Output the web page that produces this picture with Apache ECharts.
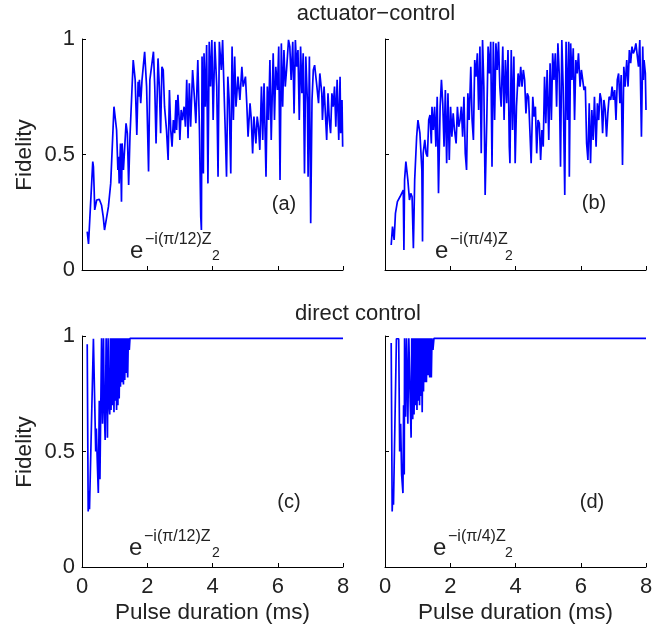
<!DOCTYPE html>
<html>
<head>
<meta charset="utf-8">
<script src="https://cdn.jsdelivr.net/npm/echarts@6/dist/echarts.min.js"></script>
<style>html,body{margin:0;padding:0;background:#fff}#c{width:668px;height:625px}</style>
</head>
<body>
<div id="c"></div>
<script>
// Fidelity vs pulse duration (ms): [ms, fidelity]
const panelA = [[0.16,0.166],[0.20,0.113],[0.33,0.469],[0.35,0.447],[0.37,0.36],[0.39,0.26],[0.45,0.303],[0.53,0.306],[0.60,0.28],[0.65,0.231],[0.69,0.173],[0.72,0.17],[0.81,0.274],[0.88,0.375],[0.91,0.375],[0.98,0.707],[1.06,0.606],[1.10,0.433],[1.12,0.49],[1.14,0.375],[1.18,0.548],[1.21,0.296],[1.23,0.548],[1.27,0.433],[1.35,0.635],[1.39,0.592],[1.43,0.368],[1.47,0.577],[1.57,0.909],[1.63,0.823],[1.68,0.584],[1.72,0.815],[1.74,0.75],[1.76,0.823],[1.80,0.722],[1.84,0.823],[1.92,0.945],[1.98,0.794],[2.04,0.426],[2.08,0.823],[2.19,0.945],[2.23,0.794],[2.27,0.548],[2.33,0.916],[2.37,0.794],[2.41,0.592],[2.45,0.88],[2.49,0.866],[2.53,0.707],[2.59,0.606],[2.64,0.476],[2.68,0.779],[2.72,0.606],[2.76,0.534],[2.80,0.649],[2.84,0.592],[2.88,0.736],[2.90,0.606],[2.94,0.758],[2.98,0.649],[3.00,0.563],[3.04,0.693],[3.08,0.649],[3.13,0.707],[3.17,0.62],[3.21,0.823],[3.25,0.57],[3.29,0.808],[3.33,0.62],[3.39,0.866],[3.45,0.736],[3.49,0.635],[3.55,0.909],[3.60,0.606],[3.64,0.231],[3.66,0.173],[3.68,0.924],[3.72,0.418],[3.74,0.938],[3.78,0.707],[3.82,0.974],[3.86,0.375],[3.90,0.988],[3.94,0.794],[3.98,0.996],[4.02,0.649],[4.07,0.988],[4.13,0.794],[4.17,0.404],[4.21,0.988],[4.27,0.866],[4.31,0.996],[4.35,0.794],[4.39,0.606],[4.43,0.404],[4.47,0.837],[4.51,0.736],[4.56,0.418],[4.60,0.967],[4.64,0.649],[4.68,0.924],[4.72,0.707],[4.78,0.837],[4.84,0.736],[4.90,0.88],[4.94,0.794],[5.01,0.837],[5.05,0.722],[5.09,0.577],[5.15,0.722],[5.19,0.649],[5.23,0.505],[5.27,0.664],[5.33,0.548],[5.37,0.664],[5.41,0.62],[5.45,0.52],[5.50,0.794],[5.54,0.563],[5.58,0.808],[5.64,0.404],[5.68,0.794],[5.72,0.649],[5.76,0.909],[5.80,0.563],[5.86,0.938],[5.90,0.649],[5.94,0.88],[5.99,0.779],[6.03,0.967],[6.07,0.39],[6.11,0.981],[6.15,0.707],[6.19,0.952],[6.23,0.794],[6.27,0.866],[6.33,0.996],[6.37,0.967],[6.41,0.823],[6.46,0.988],[6.50,0.678],[6.54,0.996],[6.58,0.88],[6.62,0.952],[6.66,0.649],[6.70,0.967],[6.74,0.765],[6.78,0.938],[6.82,0.418],[6.86,0.924],[6.91,0.722],[6.93,0.404],[6.97,0.924],[7.01,0.202],[7.05,0.736],[7.09,0.866],[7.13,0.887],[7.19,0.808],[7.25,0.722],[7.29,0.851],[7.35,0.765],[7.37,0.649],[7.42,0.794],[7.46,0.678],[7.50,0.563],[7.54,0.765],[7.58,0.649],[7.62,0.592],[7.66,0.765],[7.70,0.707],[7.74,0.794],[7.78,0.62],[7.82,0.823],[7.87,0.563],[7.91,0.837],[7.93,0.592],[7.97,0.736],[7.99,0.534]];

const panelB = [[0.19,0.108],[0.23,0.188],[0.28,0.13],[0.32,0.245],[0.38,0.296],[0.46,0.317],[0.52,0.31],[0.56,0.346],[0.58,0.087],[0.60,0.39],[0.64,0.469],[0.70,0.39],[0.75,0.303],[0.79,0.332],[0.83,0.317],[0.87,0.094],[0.91,0.39],[0.97,0.577],[1.01,0.649],[1.07,0.592],[1.13,0.433],[1.15,0.123],[1.17,0.505],[1.22,0.563],[1.26,0.505],[1.30,0.49],[1.34,0.649],[1.38,0.671],[1.42,0.548],[1.44,0.707],[1.48,0.606],[1.52,0.707],[1.56,0.534],[1.60,0.75],[1.64,0.332],[1.69,0.707],[1.73,0.823],[1.77,0.722],[1.81,0.534],[1.85,0.779],[1.89,0.462],[1.93,0.765],[1.97,0.476],[2.01,0.707],[2.05,0.577],[2.09,0.678],[2.13,0.606],[2.18,0.548],[2.22,0.707],[2.26,0.62],[2.30,0.649],[2.34,0.707],[2.38,0.577],[2.42,0.75],[2.46,0.505],[2.50,0.433],[2.54,0.765],[2.58,0.649],[2.63,0.88],[2.67,0.649],[2.71,0.563],[2.75,0.909],[2.79,0.837],[2.83,0.938],[2.87,0.693],[2.91,0.967],[2.95,0.505],[2.99,0.996],[3.03,0.794],[3.07,0.325],[3.12,0.649],[3.16,0.967],[3.20,0.851],[3.24,0.988],[3.28,0.447],[3.32,0.988],[3.36,0.649],[3.40,0.981],[3.44,0.866],[3.48,0.988],[3.52,0.794],[3.56,0.707],[3.61,0.967],[3.65,0.649],[3.69,0.909],[3.73,0.722],[3.77,0.952],[3.81,0.534],[3.83,0.462],[3.87,0.952],[3.91,0.606],[3.95,0.924],[3.99,0.462],[4.03,0.707],[4.08,0.851],[4.12,0.794],[4.16,0.88],[4.20,0.794],[4.24,0.866],[4.28,0.823],[4.32,0.678],[4.36,0.765],[4.40,0.75],[4.44,0.606],[4.48,0.462],[4.53,0.75],[4.57,0.664],[4.61,0.707],[4.65,0.505],[4.69,0.649],[4.73,0.635],[4.77,0.476],[4.81,0.606],[4.85,0.534],[4.89,0.837],[4.93,0.635],[4.97,0.866],[5.02,0.563],[5.06,0.895],[5.10,0.649],[5.14,0.938],[5.18,0.823],[5.22,0.938],[5.26,0.707],[5.30,0.981],[5.34,0.851],[5.38,0.447],[5.42,0.996],[5.46,0.794],[5.51,0.325],[5.55,0.988],[5.59,0.649],[5.63,0.988],[5.65,0.404],[5.69,0.981],[5.73,0.823],[5.77,0.96],[5.81,0.649],[5.85,0.909],[5.89,0.851],[5.93,0.938],[5.98,0.794],[6.02,0.866],[6.06,0.823],[6.10,0.779],[6.14,0.794],[6.18,0.548],[6.22,0.476],[6.26,0.722],[6.30,0.462],[6.34,0.693],[6.38,0.563],[6.42,0.75],[6.47,0.534],[6.51,0.722],[6.55,0.649],[6.59,0.765],[6.63,0.736],[6.67,0.592],[6.71,0.736],[6.75,0.693],[6.79,0.577],[6.83,0.678],[6.87,0.75],[6.92,0.736],[6.96,0.794],[7.00,0.736],[7.04,0.779],[7.08,0.649],[7.12,0.823],[7.16,0.851],[7.20,0.722],[7.24,0.844],[7.28,0.455],[7.32,0.88],[7.36,0.794],[7.41,0.909],[7.45,0.794],[7.49,0.952],[7.53,0.895],[7.57,0.967],[7.61,0.938],[7.65,0.952],[7.69,0.981],[7.73,0.988],[7.77,0.88],[7.81,0.996],[7.86,0.577],[7.90,0.967],[7.92,0.823],[7.94,0.909],[7.98,0.851],[8.00,0.693]];

const panelC = [[0.16,0.964],[0.19,0.24],[0.21,0.33],[0.23,0.25],[0.35,0.988],[0.41,0.988],[0.42,0.50],[0.44,0.60],[0.47,0.45],[0.50,0.32],[0.53,0.72],[0.55,0.38],[0.60,0.99],[0.63,0.62],[0.66,0.99],[0.68,0.70],[0.71,0.55],[0.74,0.99],[0.76,0.80],[0.78,0.56],[0.80,0.99],[0.82,0.72],[0.85,0.66],[0.87,0.99],[0.89,0.68],[0.92,0.99],[0.94,0.70],[0.96,0.99],[0.98,0.67],[1.00,0.99],[1.02,0.72],[1.04,0.99],[1.06,0.68],[1.08,0.99],[1.10,0.70],[1.12,0.99],[1.14,0.73],[1.16,0.99],[1.18,0.78],[1.20,0.99],[1.22,0.80],[1.24,0.99],[1.27,0.79],[1.29,0.99],[1.31,0.81],[1.33,0.99],[1.35,0.84],[1.37,0.99],[1.40,0.82],[1.42,0.99],[1.45,0.94],[1.47,0.99],[1.50,0.985],[8.00,0.99]];

const panelD = [[0.19,0.97],[0.22,0.24],[0.24,0.33],[0.26,0.27],[0.35,0.988],[0.42,0.988],[0.45,0.50],[0.48,0.62],[0.51,0.40],[0.55,0.32],[0.57,0.70],[0.59,0.40],[0.60,0.99],[0.63,0.65],[0.66,0.99],[0.70,0.62],[0.73,0.99],[0.76,0.80],[0.80,0.56],[0.82,0.99],[0.85,0.64],[0.87,0.99],[0.89,0.66],[0.92,0.99],[0.94,0.70],[0.96,0.99],[0.98,0.68],[1.00,0.99],[1.02,0.72],[1.04,0.99],[1.06,0.70],[1.08,0.99],[1.10,0.74],[1.12,0.99],[1.14,0.67],[1.16,0.99],[1.18,0.76],[1.20,0.99],[1.22,0.80],[1.24,0.99],[1.27,0.80],[1.29,0.99],[1.32,0.83],[1.34,0.99],[1.37,0.82],[1.39,0.99],[1.42,0.82],[1.44,0.99],[1.47,0.94],[1.50,0.99],[8.00,0.99]];

const xTicks = [0, 2, 4, 6, 8];
const yTicks = [0, 0.5, 1];
const panelLabels = ['(a)', '(b)', '(c)', '(d)'];
const gateExponents = ['\u2212i(\u03c0/12)Z', '\u2212i(\u03c0/4)Z', '\u2212i(\u03c0/12)Z', '\u2212i(\u03c0/4)Z'];
const rowTitles = ['actuator\u2212control', 'direct control'];

const FONT = '"Liberation Sans", Arial, Helvetica, sans-serif';
const TXT = '#222';

const grids = [
  {left: 82, top: 39, width: 261, height: 231},
  {left: 385, top: 39, width: 261, height: 231},
  {left: 82, top: 336, width: 261, height: 231},
  {left: 385, top: 336, width: 261, height: 231}
];

function xAxis(i, showLabels) {
  return {
    type: 'value', gridIndex: i, min: xTicks[0], max: xTicks[xTicks.length-1], interval: 2,
    axisLine: {show: true, onZero: false, lineStyle: {color: '#000', width: 1}},
    axisTick: {show: true, inside: true, length: 4, lineStyle: {color: '#000'}},
    axisLabel: {show: showLabels, margin: 9, fontSize: 22, fontFamily: FONT, color: TXT},
    splitLine: {show: false},
    name: showLabels ? 'Pulse duration (ms)' : '',
    nameLocation: 'middle', nameGap: 34,
    nameTextStyle: {fontSize: 22.5, fontFamily: FONT, color: TXT}
  };
}
function yAxis(i, showLabels) {
  return {
    type: 'value', gridIndex: i, min: yTicks[0], max: yTicks[yTicks.length-1], interval: 0.5,
    axisLine: {show: true, onZero: false, lineStyle: {color: '#000', width: 1}},
    axisTick: {show: true, inside: true, length: 4, lineStyle: {color: '#000'}},
    axisLabel: {show: showLabels, margin: 7, fontSize: 22, fontFamily: FONT, color: TXT},
    splitLine: {show: false}
  };
}

const series = [panelA, panelB, panelC, panelD].map((d, i) => ({
  type: 'line', xAxisIndex: i, yAxisIndex: i, data: d,
  showSymbol: false, symbol: 'none',
  lineStyle: {color: '#0000ff', width: 1.7},
  animation: false
}));

const graphics = [];
// row titles
graphics.push({type: 'text', x: 376, y: 14, style: {text: rowTitles[0], font: '22px ' + FONT, fill: TXT, align: 'center', verticalAlign: 'middle', textAlign: 'center', textVerticalAlign: 'middle'}});
graphics.push({type: 'text', x: 358, y: 314, style: {text: rowTitles[1], font: '22px ' + FONT, fill: TXT, align: 'center', verticalAlign: 'middle', textAlign: 'center', textVerticalAlign: 'middle'}});
// y-axis titles
[155, 452].forEach(yy => graphics.push({type: 'text', x: 25, y: yy, rotation: Math.PI/2, style: {text: 'Fidelity', font: '22.5px ' + FONT, fill: TXT, align: 'center', verticalAlign: 'middle', textAlign: 'center', textVerticalAlign: 'middle'}}));
// panel labels and gate formulas
const labelPos = [[284, 204], [594, 203], [289, 502], [592, 502]];
const ePos = [[130, 251], [435, 251], [129, 548], [433, 548]];
const supX = [145, 450, 144, 448];
const subX = [212, 505, 212, 505];
for (let i = 0; i < 4; i++) {
  graphics.push({type: 'text', x: labelPos[i][0], y: labelPos[i][1], style: {text: panelLabels[i], font: '20px ' + FONT, fill: TXT, align: 'center', verticalAlign: 'middle', textAlign: 'center', textVerticalAlign: 'middle'}});
  graphics.push({type: 'text', x: ePos[i][0], y: ePos[i][1], style: {text: 'e', font: '24px ' + FONT, fill: TXT, align: 'left', verticalAlign: 'middle', textAlign: 'left', textVerticalAlign: 'middle'}});
  graphics.push({type: 'text', x: supX[i], y: ePos[i][1] - 11, style: {text: gateExponents[i], font: '16px ' + FONT, fill: TXT, align: 'left', verticalAlign: 'middle', textAlign: 'left', textVerticalAlign: 'middle'}});
  graphics.push({type: 'text', x: subX[i], y: ePos[i][1] + 5, style: {text: '2', font: '14px ' + FONT, fill: TXT, align: 'left', verticalAlign: 'middle', textAlign: 'left', textVerticalAlign: 'middle'}});
}

const chart = echarts.init(document.getElementById('c'), null, {renderer: 'canvas'});
chart.setOption({
  animation: false,
  backgroundColor: '#fff',
  grid: grids,
  xAxis: [xAxis(0, false), xAxis(1, false), xAxis(2, true), xAxis(3, true)],
  yAxis: [yAxis(0, true), yAxis(1, false), yAxis(2, true), yAxis(3, false)],
  series: series,
  graphic: graphics
});
</script>
</body>
</html>
